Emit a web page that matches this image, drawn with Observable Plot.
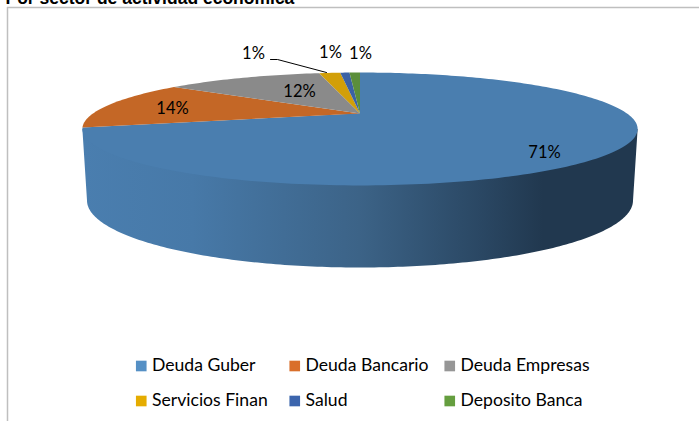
<!DOCTYPE html>
<html><head><meta charset="utf-8">
<style>html,body{margin:0;padding:0;background:#fff;overflow:hidden}svg{display:block}</style>
<script src="https://cdn.jsdelivr.net/npm/d3@7"></script>
<script src="https://cdn.jsdelivr.net/npm/@observablehq/plot@0.6"></script>
</head><body>
<div id="chart"></div>
<script>
const title = "Por sector de actividad económica";
const categories = ["Deuda Guber","Deuda Bancario","Deuda Empresas","Servicios Finan","Salud","Deposito Banca"];
const values = [71, 14, 11.9, 1.6, 0.7, 0.8];
const labels = ["71%","14%","12%","1%","1%","1%"];
const sliceColors = ["#4a7eaf","#c46726","#8a8a8a","#d29f08","#3b62a5","#5b8e3a"];
const legendColors = ["#5590c5","#d96f2b","#969696","#e5ac00","#3c65ad","#659e3f"];

// layout
const W = 699, H = 421;
const apex = {x:359.5, y:113}, persp = 0.274, kx = 267, ky = -52.2;
const wall = {cx:359.5, cy:200, rx:273, ry:67};
const labelX = [544,172,299,253,330,360], labelY = [152,108,91,53,52,53];
const legendX = [135.5,289,444], legendY = [365.5,400.5];

const project = t => {
  const d = 1 + persp*Math.cos(t);
  return {x: apex.x + kx*Math.sin(t)/d, y: apex.y + ky*Math.cos(t)/d};
};
const total = d3.sum(values);
let acc = 0;
const slices = [];
values.forEach((v,i)=>{
  const a0 = acc/total*2*Math.PI; acc += v;
  const a1 = acc/total*2*Math.PI;
  const n = Math.max(4, Math.ceil(v*3));
  slices.push({name:categories[i], x:apex.x, y:apex.y});
  d3.range(n+1).forEach(k=>{
    const p = project(a0+(a1-a0)*k/n);
    slices.push({name:categories[i], ...p});
  });
  slices.push({name:categories[i], x:apex.x, y:apex.y});
});

// side wall: widest points of the top face, then round the lower ellipse (top face covers the rest)
const tExtreme = Math.acos(-persp);
const wallPts = [project(tExtreme), apex, project(2*Math.PI - tExtreme)];
d3.range(0,181).forEach(k=>{
  const a = Math.PI - Math.PI*k/180;
  wallPts.push({x:wall.cx + wall.rx*Math.cos(a), y:wall.cy + wall.ry*Math.sin(a)});
});

const leader = [{x:270,y:59},{x:277,y:59},{x:326,y:72}];
const legend = categories.map((name,i)=>({name, color:legendColors[i],
  x:legendX[i%3], y:legendY[Math.floor(i/3)]}));
const labelData = labels.map((t,i)=>({t,x:labelX[i],y:labelY[i]}));

const defs = () => {
  const s = d3.create("svg:defs");
  const g = s.append("linearGradient").attr("id","wallGrad")
    .attr("gradientUnits","userSpaceOnUse").attr("x1",81).attr("x2",637).attr("y1",0).attr("y2",0);
  [[0,"#4a7eaf"],[0.2,"#4779a8"],[0.5,"#3c6387"],[0.72,"#2a4763"],[0.83,"#21384f"],[1,"#21384f"]]
    .forEach(([o,c])=>g.append("stop").attr("offset",o).attr("stop-color",c));
  return s.node();
};

const font = "Lato, Carlito, 'Open Sans', sans-serif";
const chart = Plot.plot({
  width:W, height:H, margin:0,
  style:{background:"#fff"},
  x:{domain:[0,W], range:[0,W], axis:null},
  y:{domain:[0,H], range:[0,H], axis:null},
  color:{domain:categories, range:sliceColors},
  marks:[
    defs,
    Plot.ruleX([7],{y1:7,y2:H,stroke:"#bfbfbf",strokeWidth:1.5}),
    Plot.ruleY([7],{x1:7,x2:W,stroke:"#bfbfbf",strokeWidth:1.5}),
    Plot.text([title],{x:5,y:3.5,text:d=>d,textAnchor:"start",fontFamily:"'Liberation Sans',Arial,sans-serif",fontWeight:"bold",fontSize:17.5,fill:"#000",lineAnchor:"bottom"}),
    Plot.line(wallPts,{x:"x",y:"y",fill:"url(#wallGrad)",stroke:"none",curve:"linear"}),
    Plot.line(slices,{x:"x",y:"y",z:"name",fill:"name",stroke:"none",curve:"linear"}),
    Plot.line(leader,{x:"x",y:"y",stroke:"#000",strokeWidth:1,curve:"linear"}),
    Plot.text(labelData,{x:"x",y:"y",text:"t",fontFamily:font,fontSize:16.5,fill:"#000",textAnchor:"middle"}),
    Plot.dot(legend,{x:d=>d.x+5.25,y:"y",symbol:"square",r:6,fill:d=>d.color,stroke:"none"}),
    Plot.text(legend,{x:d=>d.x+16,y:"y",dy:-1,text:"name",fontFamily:font,fontSize:17.6,fill:"#000",textAnchor:"start"})
  ]
});
document.getElementById("chart").append(chart);
</script>
</body></html>
